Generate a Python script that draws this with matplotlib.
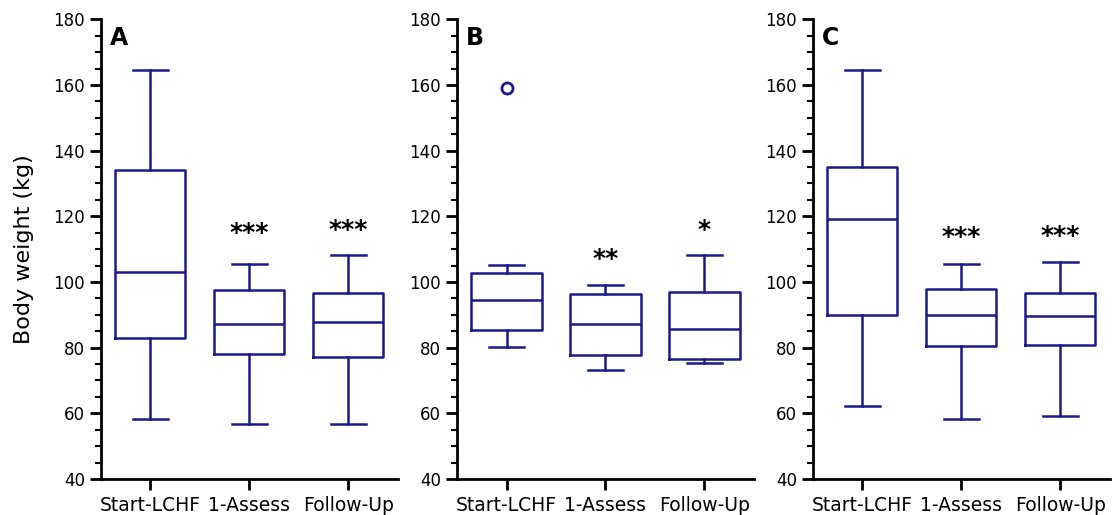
import matplotlib
matplotlib.use("Agg")
import matplotlib.pyplot as plt
from matplotlib.ticker import MultipleLocator

# box statistics (kg)
groups = ["Start-LCHF", "1-Assess", "Follow-Up"]
panels = ["A", "B", "C"]

whislo = {"A": [58.2, 56.8, 56.8], "B": [80.2, 73.2, 75.2], "C": [62.2, 58.2, 59.2]}
q1 = {"A": [83.0, 78.2, 77.1], "B": [85.5, 77.8, 76.5], "C": [90.0, 80.5, 80.7]}
med = {"A": [103.1, 87.3, 87.8], "B": [94.6, 87.3, 85.7], "C": [119.2, 90.0, 89.7]}
q3 = {"A": [134.0, 97.7, 96.6], "B": [102.6, 96.4, 97.1], "C": [135.1, 97.9, 96.6]}
whishi = {"A": [164.6, 105.6, 108.1], "B": [105.1, 99.1, 108.1], "C": [164.6, 105.6, 106.1]}
fliers = {"A": [[], [], []], "B": [[159.0], [], []], "C": [[], [], []]}

stars = {"A": ["", "***", "***"], "B": ["", "**", "*"], "C": ["", "***", "***"]}
star_y = {"A": [0, 112.8, 113.6], "B": [0, 105.0, 113.8], "C": [0, 111.6, 112.0]}

col = "#1a1a8a"
lw = 1.8

fig = plt.figure(figsize=(11.12, 5.15), dpi=100)
lefts = [0.0906, 0.411, 0.731]

for p, left in zip(panels, lefts):
    ax = fig.add_axes([left, 0.0699, 0.267, 0.8926])
    stats = []
    for i in range(3):
        stats.append(dict(label=groups[i], whislo=whislo[p][i], q1=q1[p][i], med=med[p][i],
                          q3=q3[p][i], whishi=whishi[p][i], fliers=fliers[p][i]))
    ax.bxp(stats, positions=[1, 2, 3], widths=0.71, showfliers=True,
           boxprops=dict(color=col, linewidth=lw),
           medianprops=dict(color=col, linewidth=lw),
           whiskerprops=dict(color=col, linewidth=lw),
           capprops=dict(color=col, linewidth=lw),
           flierprops=dict(marker="o", markerfacecolor="none", markeredgecolor=col,
                           markersize=8, markeredgewidth=2))
    for i in range(3):
        if stars[p][i]:
            ax.text(i + 1, star_y[p][i], stars[p][i], ha="center", va="baseline",
                    fontsize=18, fontweight="bold")
    ax.text(0.03, 0.985, p, transform=ax.transAxes, ha="left", va="top",
            fontsize=17, fontweight="bold")

    ax.set_xlim(0.5, 3.5)
    ax.set_ylim(40, 180)
    ax.yaxis.set_major_locator(MultipleLocator(20))
    ax.yaxis.set_minor_locator(MultipleLocator(5))
    ax.set_xticks([1, 2, 3])
    ax.set_xticklabels(groups, fontsize=13.5)
    ax.spines["top"].set_visible(False)
    ax.spines["right"].set_visible(False)
    ax.spines["left"].set_linewidth(2)
    ax.spines["bottom"].set_linewidth(2)
    ax.tick_params(axis="y", which="major", labelsize=12, length=8, width=2)
    ax.tick_params(axis="x", which="major", length=8, width=2, pad=4)
    ax.tick_params(axis="y", which="minor", length=4.5, width=1.5)
    if p == "A":
        ax.set_ylabel("Body weight (kg)", fontsize=16, labelpad=14)

plt.savefig("out.png", dpi=100)
